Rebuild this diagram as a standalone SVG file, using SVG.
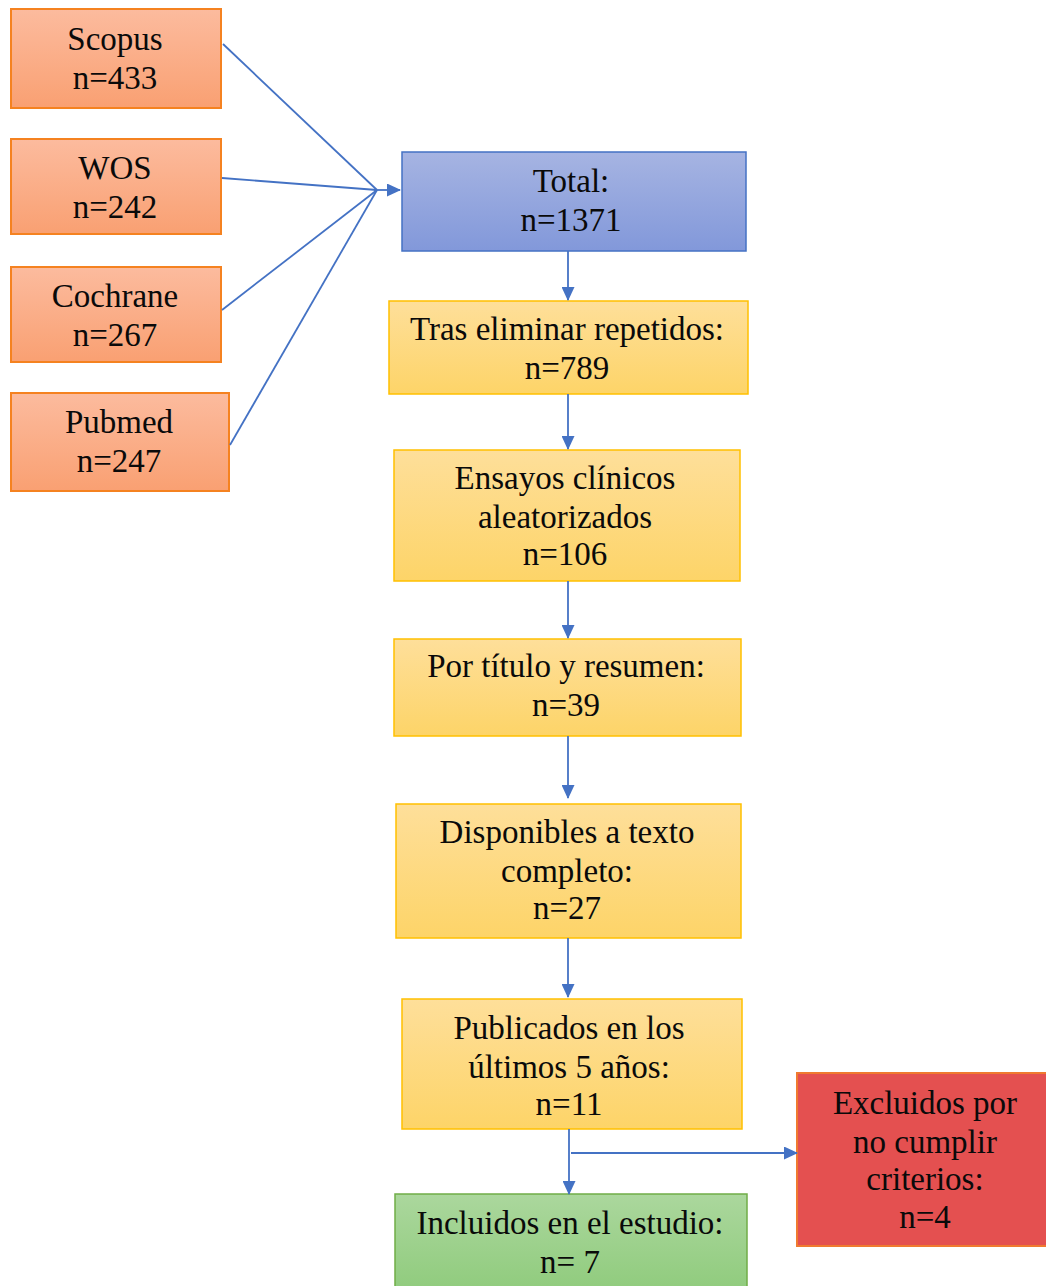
<svg xmlns="http://www.w3.org/2000/svg" width="1046" height="1286" viewBox="0 0 1046 1286">
<defs>
<linearGradient id="gOr" x1="0" y1="0" x2="0" y2="1"><stop offset="0" stop-color="#FCBB9E"/><stop offset="1" stop-color="#F9A072"/></linearGradient>
<linearGradient id="gBl" x1="0" y1="0" x2="0" y2="1"><stop offset="0" stop-color="#A6B4E2"/><stop offset="1" stop-color="#8298DA"/></linearGradient>
<linearGradient id="gYe" x1="0" y1="0" x2="0" y2="1"><stop offset="0" stop-color="#FEDF9A"/><stop offset="1" stop-color="#FDD468"/></linearGradient>
<linearGradient id="gGr" x1="0" y1="0" x2="0" y2="1"><stop offset="0" stop-color="#ABD79D"/><stop offset="1" stop-color="#8FCB7C"/></linearGradient>
<marker id="ah" markerWidth="14" markerHeight="13" refX="13" refY="6.5" orient="auto" markerUnits="userSpaceOnUse"><path d="M0,0 L14,6.5 L0,13 Z" fill="#4472C4"/></marker>
<style>
.or{fill:url(#gOr);stroke:#F58220;stroke-width:2}
.bl{fill:url(#gBl);stroke:#4472C4;stroke-width:1.5}
.ye{fill:url(#gYe);stroke:#FFC000;stroke-width:1.5}
.gr{fill:url(#gGr);stroke:#70AD47;stroke-width:1.5}
.rd{fill:#E45050;stroke:#F07A30;stroke-width:2}
text{font-family:"Liberation Serif","Times New Roman",serif;font-size:33px;fill:#0a0a0a;text-anchor:middle}
.c line,.c path{stroke:#4472C4;stroke-width:1.8;fill:none}
</style>
</defs>
<g id="scopus"><rect class="or" x="11" y="9" width="210" height="99"/><text x="115" y="50">Scopus</text><text x="115" y="89">n=433</text></g>
<g id="wos"><rect class="or" x="11" y="139" width="210" height="95"/><text x="115" y="179">WOS</text><text x="115" y="218">n=242</text></g>
<g id="cochrane"><rect class="or" x="11" y="267" width="210" height="95"/><text x="115" y="307">Cochrane</text><text x="115" y="346">n=267</text></g>
<g id="pubmed"><rect class="or" x="11" y="393" width="218" height="98"/><text x="119" y="433">Pubmed</text><text x="119" y="472">n=247</text></g>
<g id="total"><rect class="bl" x="402" y="152" width="344" height="99"/><text x="571" y="192">Total:</text><text x="571" y="231">n=1371</text></g>
<g id="tras"><rect class="ye" x="389" y="301" width="359" height="93"/><text x="567" y="340">Tras eliminar repetidos:</text><text x="567" y="379">n=789</text></g>
<g id="ensayos"><rect class="ye" x="394" y="450" width="346" height="131"/><text x="565" y="489">Ensayos clínicos</text><text x="565" y="528">aleatorizados</text><text x="565" y="565">n=106</text></g>
<g id="titulo"><rect class="ye" x="394" y="639" width="347" height="97"/><text x="566" y="677">Por título y resumen:</text><text x="566" y="716">n=39</text></g>
<g id="disponibles"><rect class="ye" x="396" y="804" width="345" height="134"/><text x="567" y="843">Disponibles a texto</text><text x="567" y="882">completo:</text><text x="567" y="919">n=27</text></g>
<g id="publicados"><rect class="ye" x="402" y="999" width="340" height="130"/><text x="569" y="1039">Publicados en los</text><text x="569" y="1078">últimos 5 años:</text><text x="569" y="1115">n=11</text></g>
<g id="incluidos"><rect class="gr" x="395" y="1194" width="352" height="100"/><text x="570" y="1234">Incluidos en el estudio:</text><text x="570" y="1273">n= 7</text></g>
<g id="excluidos"><rect class="rd" x="797" y="1073" width="252" height="173"/><text x="925" y="1114">Excluidos por</text><text x="925" y="1153">no cumplir</text><text x="925" y="1190">criterios:</text><text x="925" y="1228">n=4</text></g>
<g class="c" id="connectors">
<line x1="223" y1="44" x2="377" y2="190"/>
<line x1="222" y1="178" x2="377" y2="190"/>
<line x1="222" y1="310" x2="377" y2="190"/>
<line x1="230" y1="445" x2="377" y2="190"/>
<line x1="374" y1="190" x2="400" y2="190" marker-end="url(#ah)"/>
<line x1="568" y1="251" x2="568" y2="300" marker-end="url(#ah)"/>
<line x1="568" y1="394" x2="568" y2="449" marker-end="url(#ah)"/>
<line x1="568" y1="581" x2="568" y2="638" marker-end="url(#ah)"/>
<line x1="568" y1="736" x2="568" y2="798" marker-end="url(#ah)"/>
<line x1="568" y1="938" x2="568" y2="997" marker-end="url(#ah)"/>
<line x1="569" y1="1129" x2="569" y2="1194" marker-end="url(#ah)"/>
<line x1="571" y1="1153" x2="797" y2="1153" marker-end="url(#ah)"/>
</g>
</svg>
